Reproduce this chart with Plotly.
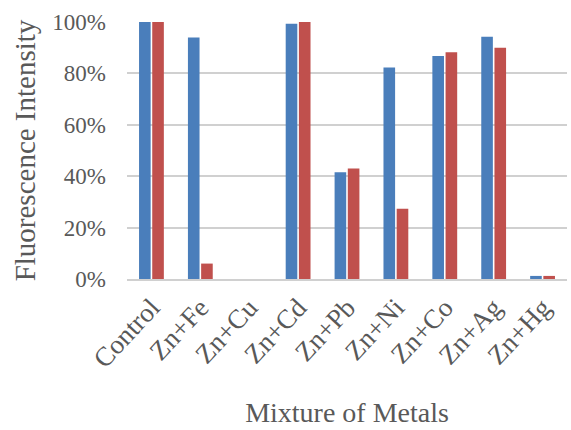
import plotly.graph_objects as go

categories = ["Control", "Zn+Fe", "Zn+Cu", "Zn+Cd", "Zn+Pb", "Zn+Ni", "Zn+Co", "Zn+Ag", "Zn+Hg"]
series_blue = [100, 94, 0, 99.3, 41.5, 82.3, 86.8, 94.3, 1.2]
series_red = [100, 6, 0, 100, 43, 27.3, 88.2, 90, 1.2]
y_ticks = [0, 20, 40, 60, 80, 100]
y_tick_labels = ["0%", "20%", "40%", "60%", "80%", "100%"]

fig = go.Figure()
fig.add_trace(go.Bar(x=categories, y=series_blue, marker=dict(color="#4A7EBB", line=dict(width=0))))
fig.add_trace(go.Bar(x=categories, y=series_red, marker=dict(color="#C0504D", line=dict(width=0))))

font_family = "Liberation Serif"
fig.update_layout(
    width=571, height=430,
    margin=dict(l=127, r=4, t=22, b=151),
    barmode="group", bargap=0.46, bargroupgap=0.12,
    showlegend=False,
    plot_bgcolor="white", paper_bgcolor="white",
    font=dict(family=font_family, color="#595959"),
)
fig.update_yaxes(
    range=[0, 100], tickvals=y_ticks, ticktext=y_tick_labels,
    tickfont=dict(size=23, color="#595959"),
    gridcolor="#D0D0D0", gridwidth=2, zeroline=False, showline=False,
    title=dict(text="Fluorescence Intensity", font=dict(size=29, color="#595959"), standoff=8),
    ticks="", ticklabelstandoff=20, automargin=False,
)
fig.update_xaxes(
    tickangle=-47, tickfont=dict(size=27, color="#595959"),
    showline=True, linecolor="#D0D0D0", linewidth=2,
    title=dict(text="Mixture of Metals", font=dict(size=28, color="#595959"), standoff=30),
    ticks="", automargin=False,
)
fig.write_html("out.html", config={"displayModeBar": False},
               post_script="document.body.style.margin='0';document.body.style.padding='0';")
